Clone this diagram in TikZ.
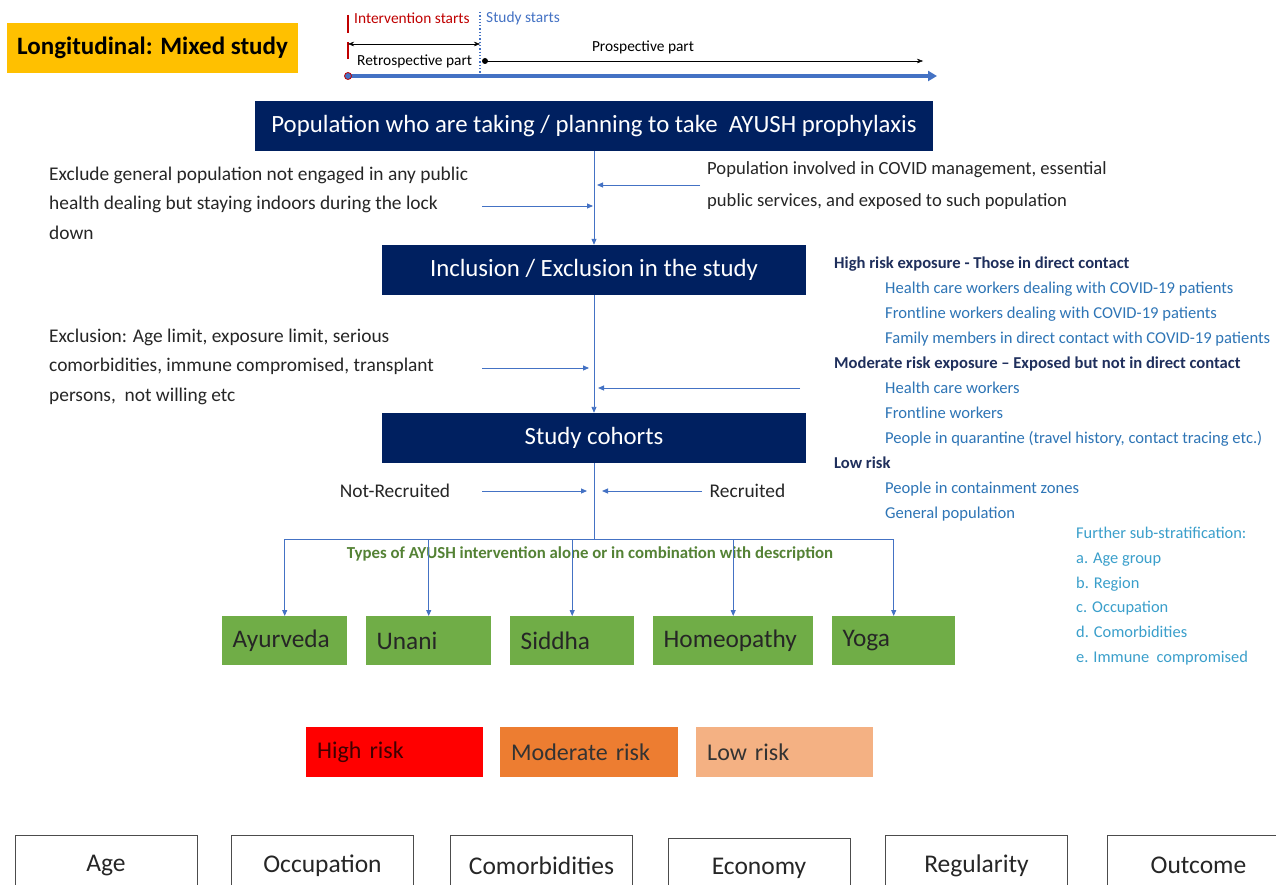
\documentclass[tikz,border=0pt]{standalone}
\usepackage{fontspec}
\setmainfont{Carlito}
\usetikzlibrary{positioning, arrows.meta}

\definecolor{navy}{HTML}{002060}
\definecolor{flowblue}{HTML}{4472C4}
\definecolor{listblue}{HTML}{2E75B6}
\definecolor{headnavy}{HTML}{1F2F5C}
\definecolor{subblue}{HTML}{3A9FCB}
\definecolor{gold}{HTML}{FFC000}
\definecolor{leafgreen}{HTML}{70AD47}
\definecolor{olive}{HTML}{548235}
\definecolor{hired}{HTML}{FF0000}
\definecolor{modorange}{HTML}{ED7D31}
\definecolor{lowpeach}{HTML}{F4B183}
\definecolor{intred}{HTML}{C00000}

\tikzset{
  navybox/.style={fill=navy, text=white, inner sep=0pt, font=\fontsize{24.8}{29}\selectfont},
  note/.style={inner sep=0pt, align=left, text=black!85, font=\fontsize{19.4}{29.3}\selectfont},
  flow/.style={draw=flowblue, line width=0.9pt, -{Triangle[length=6pt,width=5pt]}},
  greenbox/.style={fill=leafgreen, anchor=north west, minimum height=49pt, inner xsep=10.5pt,
    align=left, text=black!85, font=\fontsize{25.3}{29}\selectfont},
  riskbox/.style={anchor=north west, minimum height=50pt, inner xsep=11pt, align=left,
    font=\fontsize{24}{28}\selectfont},
  factorbox/.style={draw=black!70, line width=0.8pt, anchor=north, minimum width=182pt,
    minimum height=60pt, text=black!85, font=\fontsize{25.5}{29}\selectfont},
  tlabel/.style={inner sep=0pt, anchor=west, font=\fontsize{15.4}{18}\selectfont}
}

\begin{document}
\begin{tikzpicture}[x=1pt, y=-1pt]
\clip (0,0) rectangle (1276,885);
\fill[white] (0,0) rectangle (1276,885);

% title and time line
\node[fill=gold, minimum width=291pt, minimum height=50pt, inner sep=0pt,
  font=\bfseries\fontsize{25}{29}\selectfont] (title) at (152.5,48) {Longitudinal: Mixed study};
\coordinate (tStart) at (348,76);
\coordinate (tEnd) at (937,76);
\coordinate (ivStart) at (348,44);
\coordinate (stStart) at (480,44);
\coordinate (proStart) at (485,61);
\coordinate (proEnd) at (923,61);
\draw[intred, line width=2.2pt] (348,15) -- (348,33);
\draw[intred, line width=2.2pt] (348,42) -- (348,59);
\draw[flowblue, dotted, line width=1.3pt] (480,12) -- (480,74);
\draw[{Stealth[length=6pt]}-{Stealth[length=6pt]}] (ivStart) -- (stStart);
\fill (proStart) circle (3pt);
\draw[-{Stealth[length=6pt]}] (proStart) -- (proEnd);
\draw[flowblue, line width=3.5pt, -{Triangle[length=9pt,width=10pt]}] (tStart) -- (tEnd);
\filldraw[fill=flowblue, draw=intred, line width=0.8pt] (tStart) circle (3.5pt);
\node[tlabel, text=intred] (ivLbl) at (354,18) {Intervention starts};
\node[tlabel, text=flowblue] (stLbl) at (486,18) {Study starts};
\node[tlabel] (retroLbl) at (357,61) {Retrospective part};
\node[tlabel, anchor=center] (proLbl) at (643,47) {Prospective part};

% main flow
\node[navybox, minimum width=678pt, minimum height=50pt] (pop) at (594,126)
  {Population who are taking / planning to take\ \ AYUSH prophylaxis};
\node[navybox, minimum width=424pt, minimum height=50pt] (incl) at (594,270)
  {Inclusion / Exclusion in the study};
\node[navybox, minimum width=424pt, minimum height=50pt] (cohort) at (594,438)
  {Study cohorts};
\draw[flow] (pop) -- (incl);
\draw[flow] (incl) -- (cohort);

\node[note, anchor=north west] (exGen) at (49,167)
  {Exclude general population not engaged in any public\\health dealing but staying indoors during the lock\\down};
\node[note, anchor=north west, font=\fontsize{18.6}{32}\selectfont] (inCovid) at (707,161.5)
  {Population involved in COVID management, essential\\public services, and exposed to such population};
\coordinate (covidIn) at (700,185);
\coordinate (genOut) at (482,206);
\draw[flow, shorten >=3pt] (covidIn) -- (covidIn -| pop.south);
\draw[flow, shorten >=1pt] (genOut) -- (genOut -| pop.south);

\node[note, anchor=north west] (exLimit) at (49,329)
  {Exclusion: Age limit, exposure limit, serious\\comorbidities, immune compromised, transplant\\persons,\ \ not willing etc};
\coordinate (limitOut) at (482,368);
\coordinate (riskIn) at (800,388);
\draw[flow, shorten >=5pt] (limitOut) -- (limitOut -| incl.south);
\draw[flow, shorten >=4pt] (riskIn) -- (riskIn -| incl.south);

\node[inner sep=0pt, anchor=north west, align=left, text=listblue,
  font=\fontsize{16.6}{25}\selectfont] (riskList) at (834,257)
  {{\color{headnavy}\bfseries High risk exposure - Those in direct contact}\\
   \hspace*{51pt}Health care workers dealing with COVID-19 patients\\
   \hspace*{51pt}Frontline workers dealing with COVID-19 patients\\
   \hspace*{51pt}Family members in direct contact with COVID-19 patients\\
   {\color{headnavy}\bfseries Moderate risk exposure -- Exposed but not in direct contact}\\
   \hspace*{51pt}Health care workers\\
   \hspace*{51pt}Frontline workers\\
   \hspace*{51pt}People in quarantine (travel history, contact tracing etc.)\\
   {\color{headnavy}\bfseries Low risk}\\
   \hspace*{51pt}People in containment zones\\
   \hspace*{51pt}General population};
\node[inner sep=0pt, anchor=north west, align=left, text=subblue,
  font=\fontsize{16.4}{24.8}\selectfont] (subStrat) at (1076,527)
  {Further sub-stratification:\\a. Age group\\b. Region\\c. Occupation\\d. Comorbidities\\e. Immune\ \ compromised};

% recruitment and interventions
\node[note] (notRec) at (395,491) {Not-Recruited};
\node[note] (rec) at (747.5,491) {Recruited};
\coordinate (notRecOut) at (482,491);
\coordinate (recOut) at (702,491);
\draw[flow, shorten >=7pt] (notRecOut) -- (notRecOut -| cohort.south);
\draw[flow, shorten >=8pt] (recOut) -- (recOut -| cohort.south);

\node[inner sep=0pt, text=olive, font=\bfseries\fontsize{16.8}{20}\selectfont] (types) at (590,554)
  {Types of AYUSH intervention alone or in combination with description};
\coordinate (branch) at (594,539);
\draw[flowblue, line width=0.9pt] (cohort.south) -- (branch);

\foreach \nm/\x/\tw/\txt in {ayur/222/104/Ayurveda, unani/366/104/Unani, siddha/510/103/Siddha,
    homeo/653/139/Homeopathy, yoga/832/102/Yoga}
  \node[greenbox, text width=\tw pt] (\nm) at (\x,616) {\txt};
\draw[flowblue, line width=0.9pt] (ayur.north |- branch) -- (yoga.north |- branch);
\foreach \nm in {ayur,unani,siddha,homeo,yoga}
  \draw[flow] (\nm.north |- branch) -- (\nm.north);

% risk colours
\node[riskbox, fill=hired, text=black!75!red, text width=155pt] (highRisk) at (306,727) {High risk};
\node[riskbox, fill=modorange, text=black!80, text width=156pt] (modRisk) at (500,727) {Moderate risk};
\node[riskbox, fill=lowpeach, text=black!80, text width=155pt] (lowRisk) at (696,727) {Low risk};

% factors
\foreach \nm/\x/\y/\txt in {age/106/835/Age, occ/322.5/835/Occupation, como/541.5/835/Comorbidities,
    econ/759/838/Economy, regul/976.5/835/Regularity, outc/1198.5/835/Outcome}
  \node[factorbox] (\nm) at (\x,\y) {\txt};
\end{tikzpicture}
\end{document}
